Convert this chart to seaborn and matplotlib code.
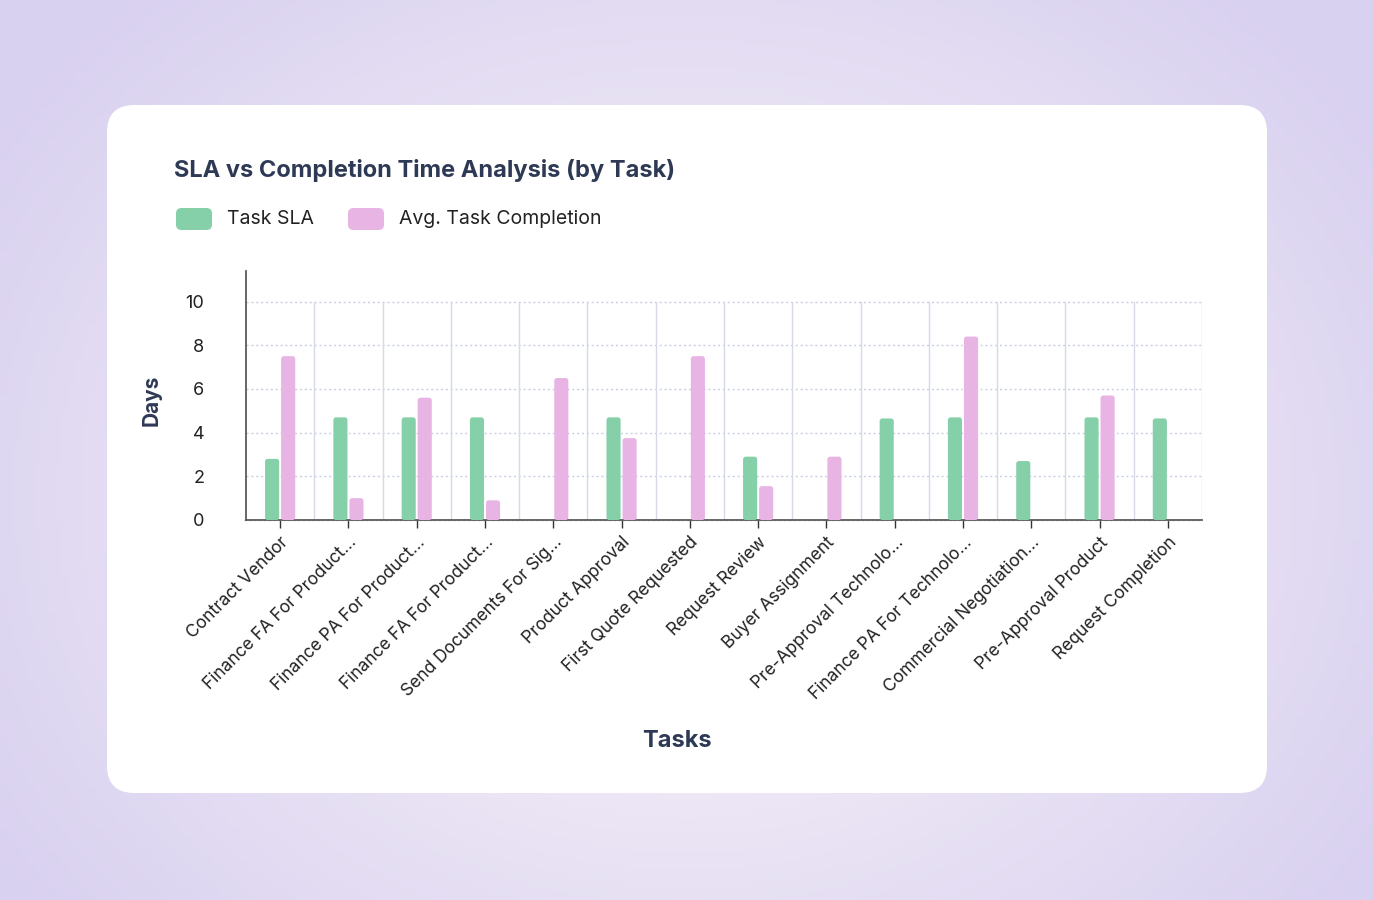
import numpy as np
import pandas as pd
import matplotlib
matplotlib.use("Agg")
import matplotlib.pyplot as plt
import seaborn as sns
from matplotlib.patches import FancyBboxPatch

tasks = ["Contract Vendor", "Finance FA For Product...", "Finance PA For Product...",
         "Finance FA For Product...", "Send Documents For Sig...", "Product Approval",
         "First Quote Requested", "Request Review", "Buyer Assignment",
         "Pre-Approval Technolo...", "Finance PA For Technolo...", "Commercial Negotiation...",
         "Pre-Approval Product", "Request Completion"]
task_sla = [2.8, 4.7, 4.7, 4.7, 0, 4.7, 0, 2.9, 0, 4.65, 4.7, 2.7, 4.7, 4.65]
avg_completion = [7.5, 1.0, 5.6, 0.9, 6.5, 3.75, 7.5, 1.55, 2.9, 0, 8.4, 0, 5.7, 0]
series = ["Task SLA", "Avg. Task Completion"]
colors = ["#86D0A9", "#E8B4E4"]

sns.set_theme(style="white")
plt.rcParams['font.family'] = ['Inter', 'DejaVu Sans']
TXT = "#2E3A55"

df = pd.DataFrame({
    "pos": list(range(len(tasks))) * 2,
    "value": task_sla + avg_completion,
    "series": [series[0]] * len(tasks) + [series[1]] * len(tasks),
})

fig = plt.figure(figsize=(13.73, 9.0), dpi=100)
bg = fig.add_axes([0, 0, 1, 1], zorder=-10)
yy, xx = np.mgrid[0:1:200j, 0:1:200j]
r = np.sqrt((xx - 0.5) ** 2 + ((yy - 0.45) * 0.8) ** 2)
t = np.clip(r / 0.6, 0, 1)
c_in = np.array([0.99, 0.97, 0.98])
c_out = np.array([0.85, 0.82, 0.94])
img = c_in[None, None, :] * (1 - t[..., None]) + c_out[None, None, :] * t[..., None]
bg.imshow(img, extent=[0, 1, 0, 1], aspect="auto", origin="lower")
bg.set_axis_off()
card = FancyBboxPatch((107 / 1373, (900 - 793) / 900), (1267 - 107) / 1373, (793 - 105) / 900,
                      boxstyle="round,pad=0,rounding_size=0.02", transform=fig.transFigure,
                      facecolor="white", edgecolor="none", zorder=-5, mutation_aspect=1373 / 900)
fig.patches.append(card)

ax = fig.add_axes([246 / 1373, (900 - 520) / 900, (1202 - 246) / 1373, (520 - 271) / 900])
ax.patch.set_alpha(0)
sns.barplot(data=df, x="pos", y="value", hue="series", palette=colors, ax=ax,
            width=0.47, gap=0.12, legend=False, order=list(range(len(tasks))),
            saturation=1, zorder=3)

xscale = 14 / 956.0
yscale = 11.4 / 249.0
asp = yscale / xscale
for p in list(ax.patches):
    x, y, w, h = p.get_x(), p.get_y(), p.get_width(), p.get_height()
    fc = p.get_facecolor()
    p.remove()
    if h <= 0:
        continue
    fb = FancyBboxPatch((x, y), w, h, boxstyle="round,pad=0,rounding_size=0.04",
                        mutation_aspect=asp, facecolor=fc, edgecolor="none", zorder=3)
    ax.add_patch(fb)

ax.set_xlim(-0.5, 13.5)
ax.set_ylim(0, 11.4)
ax.set_yticks([0, 2, 4, 6, 8, 10])
for v in [2, 4, 6, 8, 10]:
    ax.plot([-0.5, 13.5], [v, v], ls=(0, (1.5, 2)), color="#C9CFE3", lw=1, zorder=1)
ax.plot([-0.53, 13.5], [0, 0], ls=(0, (1.5, 2)), color="#C9CFE3", lw=1, zorder=1, clip_on=False)
for b in np.arange(0.5, 14, 1):
    ax.plot([b, b], [0, 10], color="#D5D9E8", lw=1, zorder=1)

for s in ["top", "right"]:
    ax.spines[s].set_visible(False)
ax.spines["left"].set_color("#555555")
ax.spines["bottom"].set_color("#555555")
ax.tick_params(axis="y", length=0, pad=30, labelsize=13, labelcolor="#222222")
ax.tick_params(axis="x", length=6, color="#333333", width=1, bottom=True, labelsize=12.5,
               labelcolor="#222222", pad=4)
ax.set_xticks(range(len(tasks)))
ax.set_xticklabels(tasks, rotation=45, ha="right", rotation_mode="anchor")
ax.set_xlabel("")
ax.set_ylabel("Days", fontsize=15, fontweight="bold", color=TXT)
ax.yaxis.set_label_coords(-0.088, 0.48)

fig.text(677 / 1373, 1 - 741 / 900, "Tasks", fontsize=17, fontweight="bold", color=TXT,
         ha="center", va="center")
fig.text(174 / 1373, 1 - 171 / 900, "SLA vs Completion Time Analysis (by Task)", fontsize=17,
         fontweight="bold", color=TXT, va="center")
# legend
for i, (lx, tx) in enumerate([(176, 227), (348, 399)]):
    fig.patches.append(FancyBboxPatch((lx / 1373, (900 - 230) / 900), 36 / 1373, 22 / 900,
                                      boxstyle="round,pad=0,rounding_size=0.004",
                                      transform=fig.transFigure, facecolor=colors[i],
                                      edgecolor="none", mutation_aspect=1373 / 900))
    fig.text(tx / 1373, 1 - 219 / 900, series[i], fontsize=14, color="#222222", va="center")
fig.savefig("out.png", dpi=100)
